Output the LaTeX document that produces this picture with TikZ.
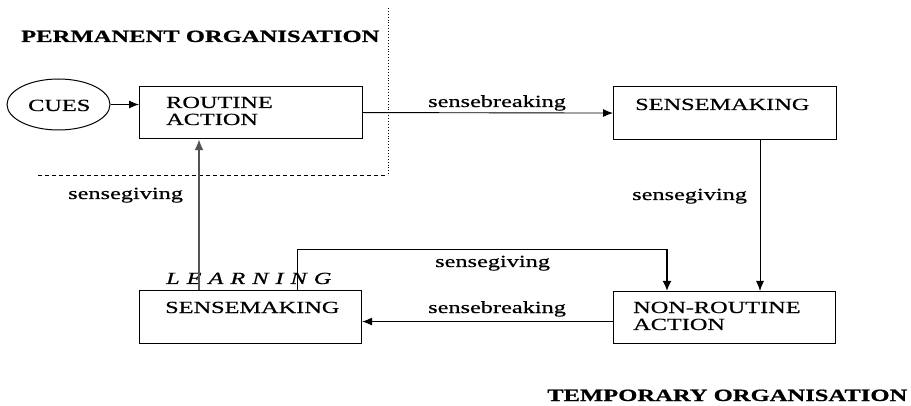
\documentclass[tikz,border=0pt]{standalone}
\usepackage{fontspec}
\setmainfont{Liberation Serif}[FakeStretch=1.43, FakeBold=0.6, BoldFeatures={FakeBold=0.8}, ItalicFeatures={FakeBold=0.6}]
\usetikzlibrary{arrows.meta,calc,shapes.geometric}
\tikzset{
  box/.style={draw, line width=1.1pt, anchor=north west, inner sep=0pt},
  txt/.style={anchor=base west, inner sep=0pt, font=\fontsize{17}{17}\selectfont},
  btxt/.style={anchor=base west, inner sep=0pt, font=\fontsize{17.2}{17}\selectfont\bfseries},
  arr/.style={line width=0.9pt, -{Latex[length=10pt,width=8pt]}},
  plain/.style={line width=0.9pt},
}
\begin{document}
\begin{tikzpicture}[x=1pt,y=-1pt]
\useasboundingbox[fill=white] (0,0) rectangle (911,406);
% boundary
\draw[line width=0.9pt, dotted] (388,8) -- (388,175);
\draw[line width=0.8pt, dash pattern=on 4pt off 3pt] (38,175) -- (388,175);
\node[btxt] (perm) at (21,42) {PERMANENT ORGANISATION};
\node[btxt] (temp) at (547,401) {TEMPORARY ORGANISATION};
% boxes
\node[draw, line width=1pt, ellipse, minimum width=103pt, minimum height=51pt, inner sep=0pt] (cues) at (58.5,104.5) {};
\node[txt] at (28,111) {CUES};
\node[box, minimum width=223pt, minimum height=52pt] (routine) at (139,86) {};
\node[txt] (routinet) at (166,108) {ROUTINE};
\node[txt] at (166,125) {ACTION};
\node[box, minimum width=223pt, minimum height=53pt] (smtop) at (613,86) {};
\node[txt] at (635,110) {SENSEMAKING};
\node[box, minimum width=222pt, minimum height=53pt] (smbot) at (139,290) {};
\node[txt] at (165,313) {SENSEMAKING};
\node[box, minimum width=222pt, minimum height=52pt] (nonr) at (613,291) {};
\node[txt] at (633,313) {NON-ROUTINE};
\node[txt] at (633,330) {ACTION};
\node[anchor=base west, inner sep=0pt, font=\fontsize{17}{17}\selectfont\itshape] (learn) at (166,284) {L\kern7pt E\kern7pt A\kern7pt R\kern7pt N\kern7pt I\kern7pt N\kern7pt G};
% labels
\node[txt] (lsb1) at (428,107) {sensebreaking};
\node[txt] (lsg1) at (632,200) {sensegiving};
\node[txt] (lsg2) at (68,199) {sensegiving};
\node[txt] (lsg3) at (435,267) {sensegiving};
\node[txt] (lsb2) at (428,313) {sensebreaking};
% connectors
\draw[arr] (cues.east) -- (cues.east -| routine.west);
\draw[arr] (routine.east) -- (smtop.west);
\draw[arr] ($(smtop.south west)+(147,0)$) -- ($(nonr.north west)+(147,0)$);
\draw[arr] ($(nonr.west)+(0,4)$) -- ($(smbot.east)+(0,4.5)$);
\coordinate (fb) at (667,249);
\draw[plain] ($(smbot.north west)+(158,0)$) |- (fb);
\draw[line width=1.8pt, -{Latex[length=10pt,width=9pt]}] (fb) -- (fb |- nonr.north);
\draw[line width=2.2pt, draw=gray!65!black, -{Latex[length=11pt,width=9pt]}] ($(smbot.north west)+(60,0)$) -- ($(routine.south west)+(60,0)$);
\end{tikzpicture}
\end{document}
